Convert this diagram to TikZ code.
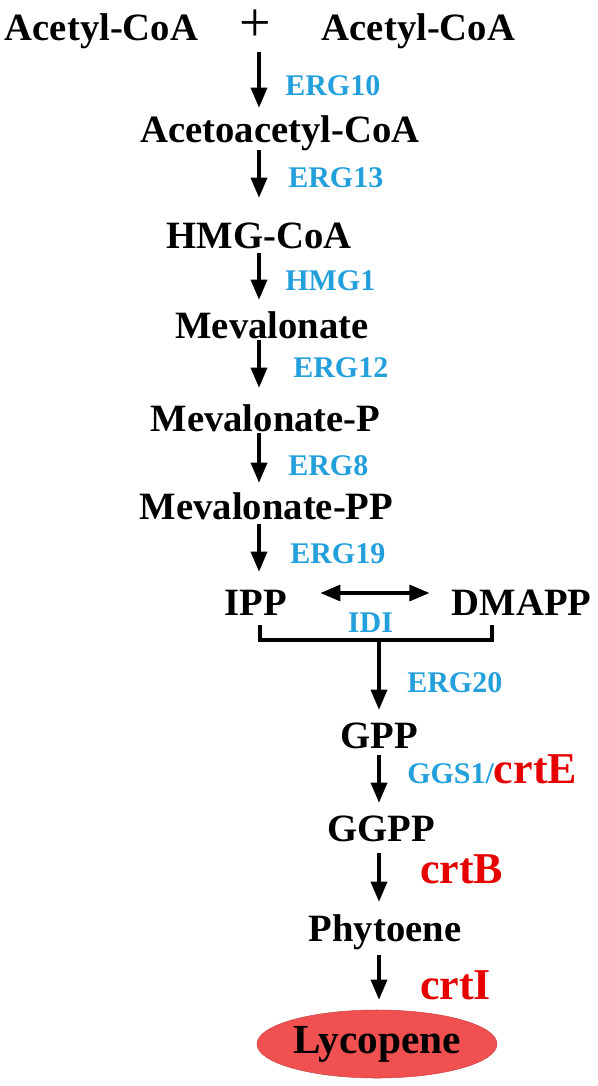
\documentclass[tikz,border=0pt]{standalone}
\usepackage{fontspec}
\setmainfont{Liberation Serif}
\usetikzlibrary{arrows.meta, shapes.geometric, calc}

\definecolor{ergblue}{RGB}{35, 160, 220}
\definecolor{crtred}{RGB}{230, 0, 0}
\definecolor{lycred}{RGB}{240, 80, 80}

\begin{document}
\begin{tikzpicture}[x=0.75pt, y=-0.75pt,
    pwtip/.tip={Triangle[width=12pt, length=15pt]},
    mol/.style={inner sep=0pt, anchor=base, text height=19.5pt, text depth=0pt, font=\fontsize{29}{30}\selectfont\bfseries},
    gene/.style={inner sep=0pt, anchor=base west, text=ergblue, font=\fontsize{22.5}{24}\selectfont\bfseries},
    crt/.style={inner sep=0pt, anchor=base west, text=crtred, font=\fontsize{33}{34}\selectfont\bfseries},
    flow/.style={-pwtip, line width=2.4pt, shorten <=3.75pt, shorten >=9pt}]

    \useasboundingbox (0, 0) rectangle (597, 1086);

    \coordinate (axis) at (259, 0);
    \coordinate (axisb) at (379, 0);

    % substrates and intermediates
    \node (acetylL) at (101.5, 40) [mol] {Acetyl-CoA};
    \node (plus) at (255, 26) [inner sep=0pt, font=\fontsize{42}{42}\selectfont] {+};
    \node (acetylR) at (418.5, 40) [mol] {Acetyl-CoA};
    \node (acac) at (280, 142) [mol] {Acetoacetyl-CoA};
    \node (hmg) at (259, 248) [mol] {HMG-CoA};
    \node (mev) at (272, 338) [mol] {Mevalonate};
    \node (mevp) at (265.5, 431) [mol] {Mevalonate-P};
    \node (mevpp) at (266.5, 519) [mol] {Mevalonate-PP};
    \node (ipp) at (256, 615) [mol] {IPP};
    \node (dmapp) at (521.5, 615) [mol] {DMAPP};
    \node (gpp) at (379.5, 748) [mol] {GPP};
    \node (ggpp) at (381, 841) [mol] {GGPP};
    \node (phyt) at (385, 941) [mol] {Phytoene};
    \node (lyc) at (377, 1044) [ellipse, fill=lycred, draw=lycred!85!black, line width=0.4pt, inner sep=0pt,
        minimum width=180pt, minimum height=51pt, font=\fontsize{31}{32}\selectfont\bfseries] {Lycopene};

    % enzymes
    \node (erg10) at (285, 95) [gene] {ERG10};
    \node (erg13) at (288, 187) [gene] {ERG13};
    \node (hmg1) at (285, 290) [gene] {HMG1};
    \node (erg12) at (293, 377) [gene] {ERG12};
    \node (erg8) at (288, 475) [gene] {ERG8};
    \node (erg19) at (290, 563) [gene] {ERG19};
    \node (idi) at (370.5, 632) [gene, anchor=base] {IDI};
    \node (erg20) at (407, 692) [gene] {ERG20};
    \node (ggs1) at (407, 783) [gene] {GGS1/{\color{crtred}\fontsize{33}{34}\selectfont crtE}};
    \node (crtb) at (420, 883) [crt] {crtB};
    \node (crti) at (420, 999) [crt] {crtI};

    \draw [flow, shorten <=9pt, shorten >=6pt] (acetylL.south -| axis) -- (acac.north -| axis);
    \draw [flow, shorten <=6pt, shorten >=18pt] (acac.south -| axis) -- (hmg.north -| axis);
    \draw [flow] (hmg.south -| axis) -- (mev.north -| axis);
    \draw [flow, shorten <=1.5pt, shorten >=12.75pt] (mev.south -| axis) -- (mevp.north -| axis);
    \draw [flow, shorten <=1.5pt, shorten >=7.5pt] (mevp.south -| axis) -- (mevpp.north -| axis);
    \draw [flow, shorten >=12.75pt] (mevpp.south -| axis) -- (ipp.north -| axis);

    \draw [pwtip-pwtip, line width=2.4pt] ($(ipp.base east) + (33, -22)$) -- ($(dmapp.base west) + (-22, -22)$);

    % IPP + DMAPP join
    \coordinate (brl) at (260, 625);
    \coordinate (brr) at (492, 625);
    \coordinate (brm) at (379, 640);
    \draw [line width=2.4pt] (brl) |- (brm) -| (brr);
    \draw [flow, shorten <=0pt] (brm) -- (gpp.north -| axisb);

    \draw [flow, shorten <=5.25pt] (gpp.south -| axisb) -- (ggpp.north -| axisb);
    \draw [flow, shorten <=9pt, shorten >=9.75pt] (ggpp.south -| axisb) -- (phyt.north -| axisb);
    \draw [flow, shorten <=10.5pt, shorten >=7.5pt] (phyt.south -| axisb) -- (lyc.north -| axisb);

\end{tikzpicture}
\end{document}
